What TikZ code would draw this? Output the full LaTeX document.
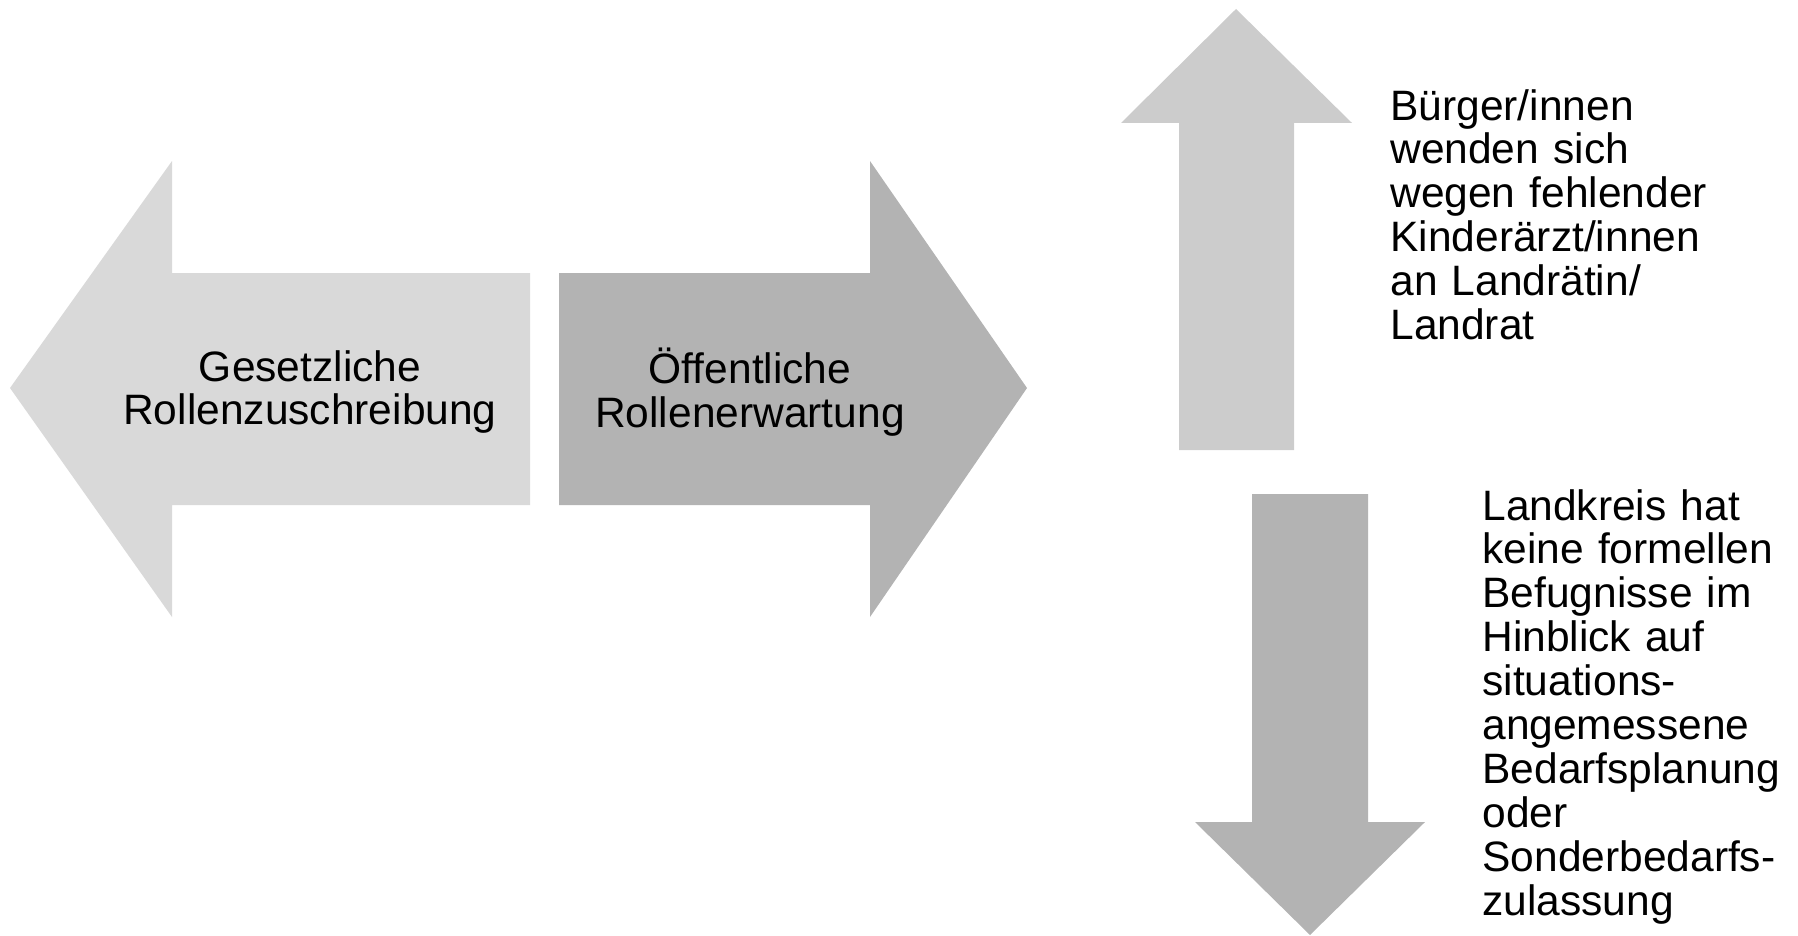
\documentclass[tikz,border=0pt]{standalone}
\usepackage{fontspec}
\setmainfont{Liberation Sans}
\usepackage{xcolor}
\usepackage{tikz}
\usetikzlibrary{positioning}
\definecolor{legalc}{HTML}{D9D9D9}
\definecolor{publicc}{HTML}{B3B3B3}
\definecolor{upc}{HTML}{CCCCCC}
\definecolor{downc}{HTML}{B3B3B3}
\tikzset{
  lbl/.style={font=\fontsize{24.2pt}{25pt}\selectfont, text=black, inner sep=0pt},
  sidelbl/.style={lbl, anchor=base west, text width=8cm, align=left},
}
\begin{document}
\begin{tikzpicture}[x=0.02cm, y=-0.02cm]
  % pixel grid, y pointing down
  \useasboundingbox (0,0) rectangle (1798,936);
  \fill[legalc] (10,388) -- (172,161) -- (172,273) -- (530,273) -- (530,505) -- (172,505) -- (172,617) -- cycle;
  \fill[publicc] (559,273) -- (870,273) -- (870,161) -- (1027,388) -- (870,617) -- (870,505) -- (559,505) -- cycle;
  \fill[upc] (1179,450) -- (1179,123) -- (1121,123) -- (1236,9) -- (1352,123) -- (1294,123) -- (1294,450) -- cycle;
  \fill[downc] (1252,494) -- (1368,494) -- (1368,822) -- (1425,822) -- (1310,935) -- (1195,822) -- (1252,822) -- cycle;
  \node[lbl, align=center] (legal) at (310,392) {Gesetzliche\\Rollenzuschreibung};
  \node[lbl, align=center] (public) at (750,392) {Öffentliche\\Rollenerwartung};
  \node[sidelbl] (citizens) at (1390,120) {Bürger/innen\\wenden sich\\wegen fehlender\\Kinderärzt/innen\\an Landrätin/\\Landrat};
  \node[sidelbl] (district) at (1482,520) {Landkreis hat\\keine formellen\\Befugnisse im\\Hinblick auf\\situations-\\angemessene\\Bedarfsplanung\\oder\\Sonderbedarfs-\\zulassung};
\end{tikzpicture}
\end{document}
